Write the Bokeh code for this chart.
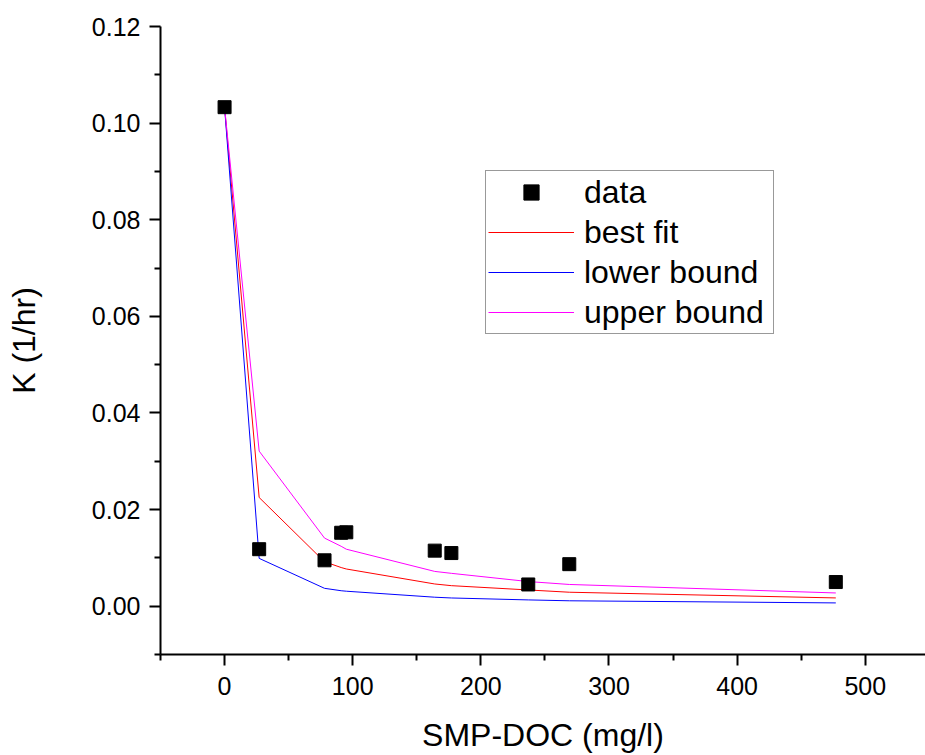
from bokeh.plotting import figure
from bokeh.models import Range1d, FixedTicker, PrintfTickFormatter, Legend, LegendItem
from bokeh.embed import file_html
from bokeh.resources import INLINE

# ---- data ----
x_data = [0, 27, 78, 91, 95, 164, 177, 237, 269, 477]
k_data = [0.1033, 0.0118, 0.0095, 0.0152, 0.0153, 0.0115, 0.0110, 0.0045, 0.0087, 0.0050]

x_fit = [0, 27, 78, 91, 95, 164, 177, 237, 269, 477]
best_fit = [0.1033, 0.0225, 0.0092, 0.0080, 0.0077, 0.0046, 0.00425, 0.00336, 0.00289, 0.00171]
lower_bound = [0.1033, 0.0099, 0.0037, 0.0032, 0.0031, 0.00186, 0.00170, 0.00130, 0.00112, 0.00068]
upper_bound = [0.1033, 0.0321, 0.0141, 0.0124, 0.0118, 0.0072, 0.0068, 0.0051, 0.0045, 0.00274]

x_ticks = [0, 100, 200, 300, 400, 500]
x_minor = [-50, 50, 150, 250, 350, 450]
y_ticks = [0.0, 0.02, 0.04, 0.06, 0.08, 0.10, 0.12]
y_minor = [-0.01, 0.01, 0.03, 0.05, 0.07, 0.09, 0.11]

FONT = "Liberation Sans"

p = figure(width=925, height=755,
           x_range=Range1d(-50, 547), y_range=Range1d(-0.01, 0.12),
           output_backend="svg", toolbar_location=None,
           min_border_left=160, min_border_right=0,
           min_border_top=26, min_border_bottom=99)

p.outline_line_color = None
p.grid.visible = False
p.background_fill_color = "white"
p.border_fill_color = "white"

r_best = p.line(x_fit, best_fit, line_color="#FF0000", line_width=1)
r_low = p.line(x_fit, lower_bound, line_color="#0000FF", line_width=1)
r_up = p.line(x_fit, upper_bound, line_color="#FF00FF", line_width=1)
r_data = p.scatter(x_data, k_data, marker="square", size=13,
                   fill_color="black", line_color="black", line_width=1)

# axes
p.xaxis.ticker = FixedTicker(ticks=x_ticks, minor_ticks=x_minor)
p.yaxis.ticker = FixedTicker(ticks=y_ticks, minor_ticks=y_minor)
p.yaxis.formatter = PrintfTickFormatter(format="%.2f")

for ax in (p.xaxis[0], p.yaxis[0]):
    ax.axis_line_width = 2
    ax.axis_line_color = "black"
    ax.major_tick_line_width = 2
    ax.minor_tick_line_width = 2
    ax.major_tick_line_color = "black"
    ax.minor_tick_line_color = "black"
    ax.major_tick_in = 0
    ax.major_tick_out = 11
    ax.minor_tick_in = 0
    ax.minor_tick_out = 6
    ax.major_label_text_font = FONT
    ax.major_label_text_font_size = "25px"
    ax.major_label_text_color = "black"
    ax.axis_label_text_font = FONT
    ax.axis_label_text_font_size = "32px"
    ax.axis_label_text_font_style = "normal"
    ax.axis_label_text_color = "black"

p.xaxis.axis_label = "SMP-DOC (mg/l)"
p.yaxis.axis_label = "K (1/hr)"
p.xaxis.major_label_standoff = 11
p.xaxis.axis_label_standoff = 19
p.yaxis.major_label_standoff = 9
p.yaxis.axis_label_standoff = 47

legend = Legend(items=[
    LegendItem(label="data", renderers=[r_data]),
    LegendItem(label="best fit", renderers=[r_best]),
    LegendItem(label="lower bound", renderers=[r_low]),
    LegendItem(label="upper bound", renderers=[r_up]),
], location=(325, 320))
legend.label_text_font = FONT
legend.label_text_font_size = "32px"
legend.label_text_color = "black"
legend.border_line_color = "#333333"
legend.border_line_width = 1
legend.background_fill_color = "white"
legend.background_fill_alpha = 1
legend.padding = 2
legend.spacing = 2
legend.margin = 0
legend.glyph_height = 38
legend.label_height = 38
legend.glyph_width = 86
legend.label_width = 187
legend.label_standoff = 10
p.add_layout(legend, "center")

open("out.html", "w").write(file_html(p, INLINE))
